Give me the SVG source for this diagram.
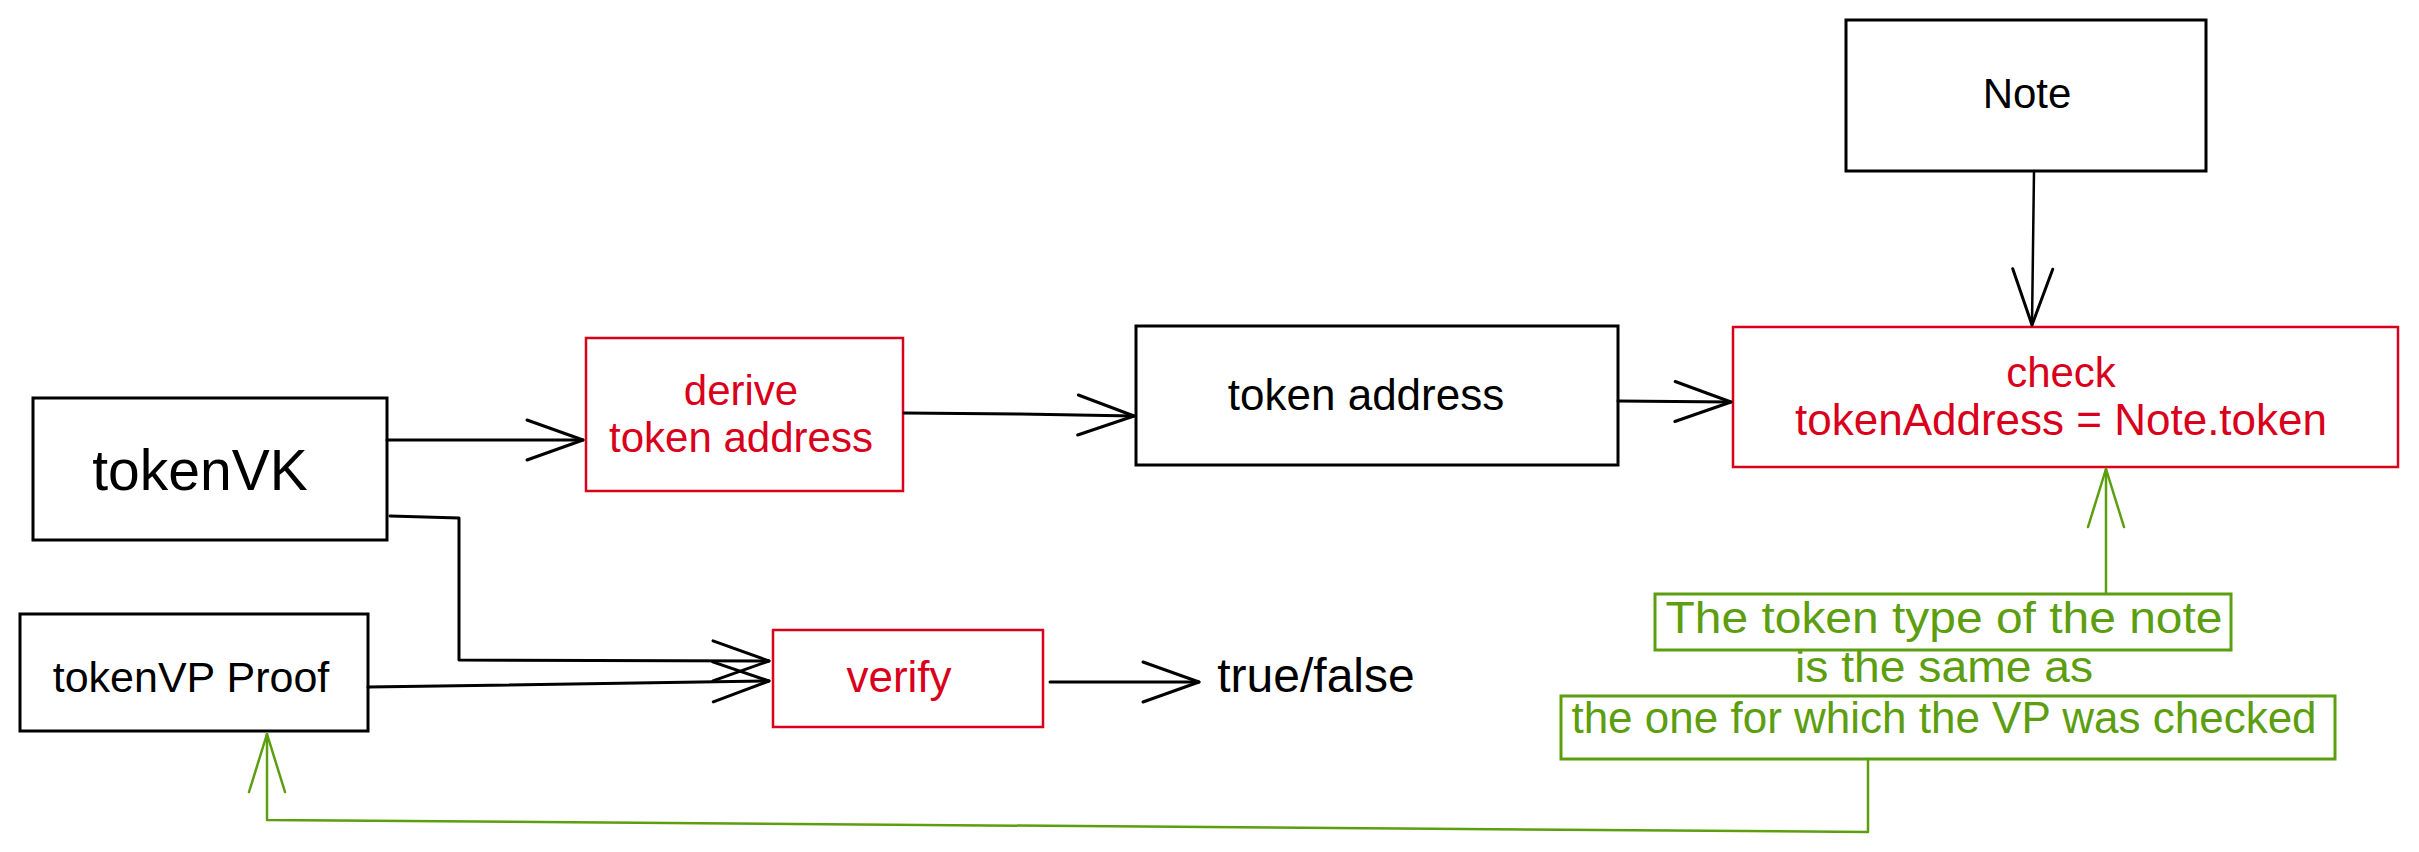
<svg xmlns="http://www.w3.org/2000/svg" width="2419" height="852" viewBox="0 0 2419 852">
  <style>
    text { font-family: "Liberation Sans", Arial, sans-serif; text-anchor: middle; }
    .blk { fill: #000000; }
    .red { fill: #d9001b; }
    .grn { fill: #5c9e0f; }
    .box-b { fill: none; stroke: #000000; stroke-width: 3; }
    .box-r { fill: none; stroke: #d9001b; stroke-width: 2.5; }
    .box-g { fill: none; stroke: #5c9e0f; stroke-width: 3; }
    .ln-b { fill: none; stroke: #000000; stroke-width: 3; stroke-linejoin: round; stroke-linecap: round; }
    .ln-g { fill: none; stroke: #5c9e0f; stroke-width: 2.5; stroke-linejoin: round; stroke-linecap: round; }
  </style>
  <defs>
    <marker id="ah-b" markerUnits="userSpaceOnUse" markerWidth="64" markerHeight="48" viewBox="-60 -24 64 48" refX="0" refY="0" orient="auto" overflow="visible">
      <path d="M-56,-20 L0,0 L-56,20" fill="none" stroke="#000000" stroke-width="3" stroke-linecap="round" stroke-linejoin="round"/>
    </marker>
    <marker id="ah-g" markerUnits="userSpaceOnUse" markerWidth="64" markerHeight="48" viewBox="-60 -24 64 48" refX="0" refY="0" orient="auto" overflow="visible">
      <path d="M-58,-18 L0,0 L-58,18" fill="none" stroke="#5c9e0f" stroke-width="2.5" stroke-linecap="round" stroke-linejoin="round"/>
    </marker>
  </defs>
  <rect width="2419" height="852" fill="#ffffff"/>

  <g id="tokenVK">
    <rect class="box-b" x="33" y="398" width="354" height="142"/>
    <text class="blk" x="200" y="490" font-size="57">tokenVK</text>
  </g>
  <g id="derive">
    <rect class="box-r" x="586" y="338" width="317" height="153"/>
    <text class="red" x="741" y="405" font-size="42">derive</text>
    <text class="red" x="741" y="452" font-size="42">token address</text>
  </g>
  <g id="tokenAddress">
    <rect class="box-b" x="1136" y="326" width="482" height="139"/>
    <text class="blk" x="1366" y="410" font-size="44">token address</text>
  </g>
  <g id="note">
    <rect class="box-b" x="1846" y="20" width="360" height="151"/>
    <text class="blk" x="2027" y="108" font-size="42">Note</text>
  </g>
  <g id="check">
    <rect class="box-r" x="1733" y="327" width="665" height="140"/>
    <text class="red" x="2061" y="387" font-size="42">check</text>
    <text class="red" x="2061" y="435" font-size="44">tokenAddress = Note.token</text>
  </g>
  <g id="tokenVPProof">
    <rect class="box-b" x="20" y="614" width="348" height="117"/>
    <text class="blk" x="191" y="692" font-size="43">tokenVP Proof</text>
  </g>
  <g id="verify">
    <rect class="box-r" x="773" y="630" width="270" height="97"/>
    <text class="red" x="899" y="692" font-size="44">verify</text>
  </g>
  <g id="trueFalse">
    <text class="blk" x="1316" y="692" font-size="48">true/false</text>
  </g>
  <g id="comment">
    <rect class="box-g" x="1655" y="594" width="576" height="56"/>
    <text class="grn" x="1944" y="633" font-size="44" textLength="557" lengthAdjust="spacingAndGlyphs">The token type of the note</text>
    <text class="grn" x="1944" y="682" font-size="44" textLength="298" lengthAdjust="spacingAndGlyphs">is the same as</text>
    <rect class="box-g" x="1561" y="696" width="774" height="63"/>
    <text class="grn" x="1944" y="733" font-size="44">the one for which the VP was checked</text>
  </g>

  <g id="connectors">
    <path class="ln-b" d="M387,440 L583,440" marker-end="url(#ah-b)"/>
    <path class="ln-b" d="M904,413 L1020,414 L1134,416" marker-end="url(#ah-b)"/>
    <path class="ln-b" d="M1618,401 L1731,402" marker-end="url(#ah-b)"/>
    <path class="ln-b" d="M2034,171 L2032,325" marker-end="url(#ah-b)" style="stroke-width:2.5"/>
    <path class="ln-b" d="M390,516 L459,518 L459,660 L769,661" marker-end="url(#ah-b)"/>
    <path class="ln-b" d="M368,687 L769,681" marker-end="url(#ah-b)"/>
    <path class="ln-b" d="M1050,682 L1199,682" marker-end="url(#ah-b)"/>
    <path class="ln-g" d="M2106,593 L2106,469" marker-end="url(#ah-g)"/>
    <path class="ln-g" d="M1868,759 L1868,832 L267,820 L267,734" marker-end="url(#ah-g)"/>
  </g>
</svg>
